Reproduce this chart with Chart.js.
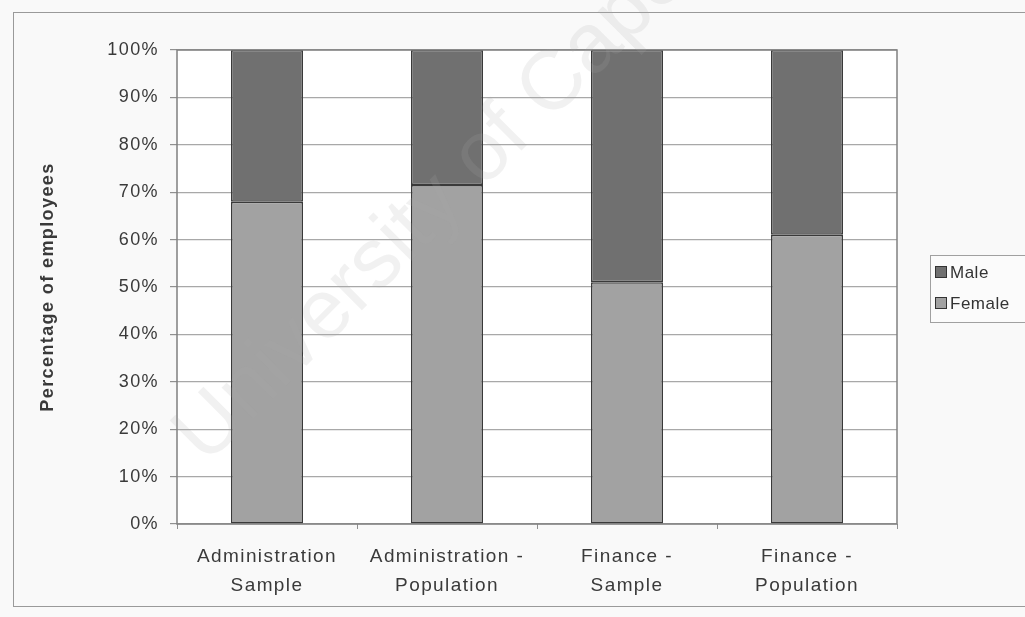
<!DOCTYPE html>
<html>
<head>
<meta charset="utf-8">
<script src="https://cdn.jsdelivr.net/npm/chart.js@4/dist/chart.umd.min.js"></script>
<style>
  html, body { margin: 0; padding: 0; background: #f9f9f9; }
  #wrap { width: 1025px; height: 617px; position: relative; }
</style>
</head>
<body>
<div id="wrap"><canvas id="chart" width="1025" height="617"></canvas></div>
<script>
// categories and gender split, in percent of employees
const categories = [
  ['Administration', 'Sample'],
  ['Administration -', 'Population'],
  ['Finance -', 'Sample'],
  ['Finance -', 'Population']
];
const femaleShare = [68, 71.5, 51, 61];
const maleShare = [32, 28.5, 49, 39];
const yTicks = [0, 10, 20, 30, 40, 50, 60, 70, 80, 90, 100];

const FONT = '"Liberation Sans", Arial, sans-serif';
const SPACING = '1.4px';
const maleColor = '#707070';
const femaleColor = '#a2a2a2';

// wide letter spacing for all chart text (set before layout measures it)
const spacingPlugin = {
  id: 'spacing',
  beforeUpdate(chart) { chart.ctx.letterSpacing = SPACING; },
  beforeDraw(chart) { chart.ctx.letterSpacing = SPACING; }
};

// page frame, plot background and plot border
const framePlugin = {
  id: 'frame',
  beforeDraw(chart) {
    const { ctx, chartArea: a } = chart;
    ctx.save();
    ctx.strokeStyle = '#9a9a9a';
    ctx.lineWidth = 1;
    ctx.strokeRect(13.5, 12.5, 1030, 594);
    ctx.fillStyle = '#ffffff';
    ctx.fillRect(a.left, a.top, a.right - a.left, a.bottom - a.top);
    ctx.restore();
  },
  afterDatasetsDraw(chart) {
    const { ctx, chartArea: a } = chart;
    ctx.save();
    ctx.strokeStyle = '#808080';
    ctx.lineWidth = 1.5;
    ctx.strokeRect(a.left, a.top, a.right - a.left, a.bottom - a.top);
    ctx.restore();
  }
};

// legend on the right, Male listed first
const legendPlugin = {
  id: 'sideLegend',
  afterDraw(chart) {
    const { ctx } = chart;
    const x = 930, y = 255, w = 110, h = 67;
    ctx.save();
    ctx.fillStyle = '#fbfbfb';
    ctx.fillRect(x, y, w, h);
    ctx.strokeStyle = '#a0a0a0';
    ctx.lineWidth = 1;
    ctx.strokeRect(x + 0.5, y + 0.5, w, h);
    const items = chart.data.datasets.slice().reverse();
    items.forEach((ds, i) => {
      const cy = y + 17 + i * 31;
      ctx.fillStyle = ds.backgroundColor;
      ctx.fillRect(x + 5, cy - 6, 12, 12);
      ctx.strokeStyle = '#333';
      ctx.strokeRect(x + 5.5, cy - 5.5, 11, 11);
      ctx.fillStyle = '#333';
      ctx.font = '17px ' + FONT;
      ctx.letterSpacing = '0.5px';
      ctx.textBaseline = 'middle';
      ctx.fillText(ds.label, x + 20, cy + 1);
    });
    ctx.restore();
  }
};

// faint diagonal watermark
const watermarkPlugin = {
  id: 'watermark',
  afterDraw(chart) {
    const { ctx } = chart;
    ctx.save();
    ctx.translate(206, 466);
    ctx.rotate(-Math.PI / 4);
    ctx.font = '84px ' + FONT;
    ctx.letterSpacing = '0px';
    ctx.fillStyle = 'rgba(170,170,170,0.16)';
    ctx.textBaseline = 'alphabetic';
    ctx.fillText('University of Cape Town', 0, 0);
    ctx.restore();
  }
};

new Chart(document.getElementById('chart'), {
  type: 'bar',
  data: {
    labels: categories,
    datasets: [
      {
        label: 'Female',
        data: femaleShare,
        backgroundColor: femaleColor,
        borderColor: '#3a3a3a',
        borderWidth: 1.5,
        borderSkipped: false,
        barPercentage: 0.4,
        categoryPercentage: 1
      },
      {
        label: 'Male',
        data: maleShare,
        backgroundColor: maleColor,
        borderColor: '#3a3a3a',
        borderWidth: 1.5,
        borderSkipped: false,
        barPercentage: 0.4,
        categoryPercentage: 1
      }
    ]
  },
  options: {
    responsive: false,
    animation: false,
    layout: { padding: { left: 14, right: 128, top: 50, bottom: 13 } },
    plugins: {
      legend: { display: false },
      tooltip: { enabled: false }
    },
    scales: {
      x: {
        stacked: true,
        offset: true,
        grid: {
          offset: true,
          drawOnChartArea: false,
          drawTicks: true,
          tickLength: 5,
          color: '#909090'
        },
        border: { display: false },
        ticks: {
          color: '#3a3a3a',
          font: { family: FONT, size: 19, lineHeight: 1.55 },
          padding: 13,
          maxRotation: 0
        },
        afterFit(scale) { scale.height = 80; }
      },
      y: {
        stacked: true,
        min: 0,
        max: 100,
        afterBuildTicks(scale) { scale.ticks = yTicks.map(v => ({ value: v })); },
        grid: {
          color: '#a8a8a8',
          lineWidth: 1.2,
          drawTicks: true,
          tickLength: 7,
          tickColor: '#909090'
        },
        border: { display: false },
        ticks: {
          color: '#3a3a3a',
          font: { family: FONT, size: 18 },
          padding: 11,
          callback: v => v + '%'
        },
        title: {
          display: true,
          text: 'Percentage of employees',
          color: '#3a3a3a',
          font: { family: FONT, size: 18, weight: 'bold' },
          padding: { top: 23, bottom: 0 }
        },
        afterFit(scale) { scale.width = 163; }
      }
    }
  },
  plugins: [spacingPlugin, framePlugin, legendPlugin, watermarkPlugin]
});
</script>
</body>
</html>
